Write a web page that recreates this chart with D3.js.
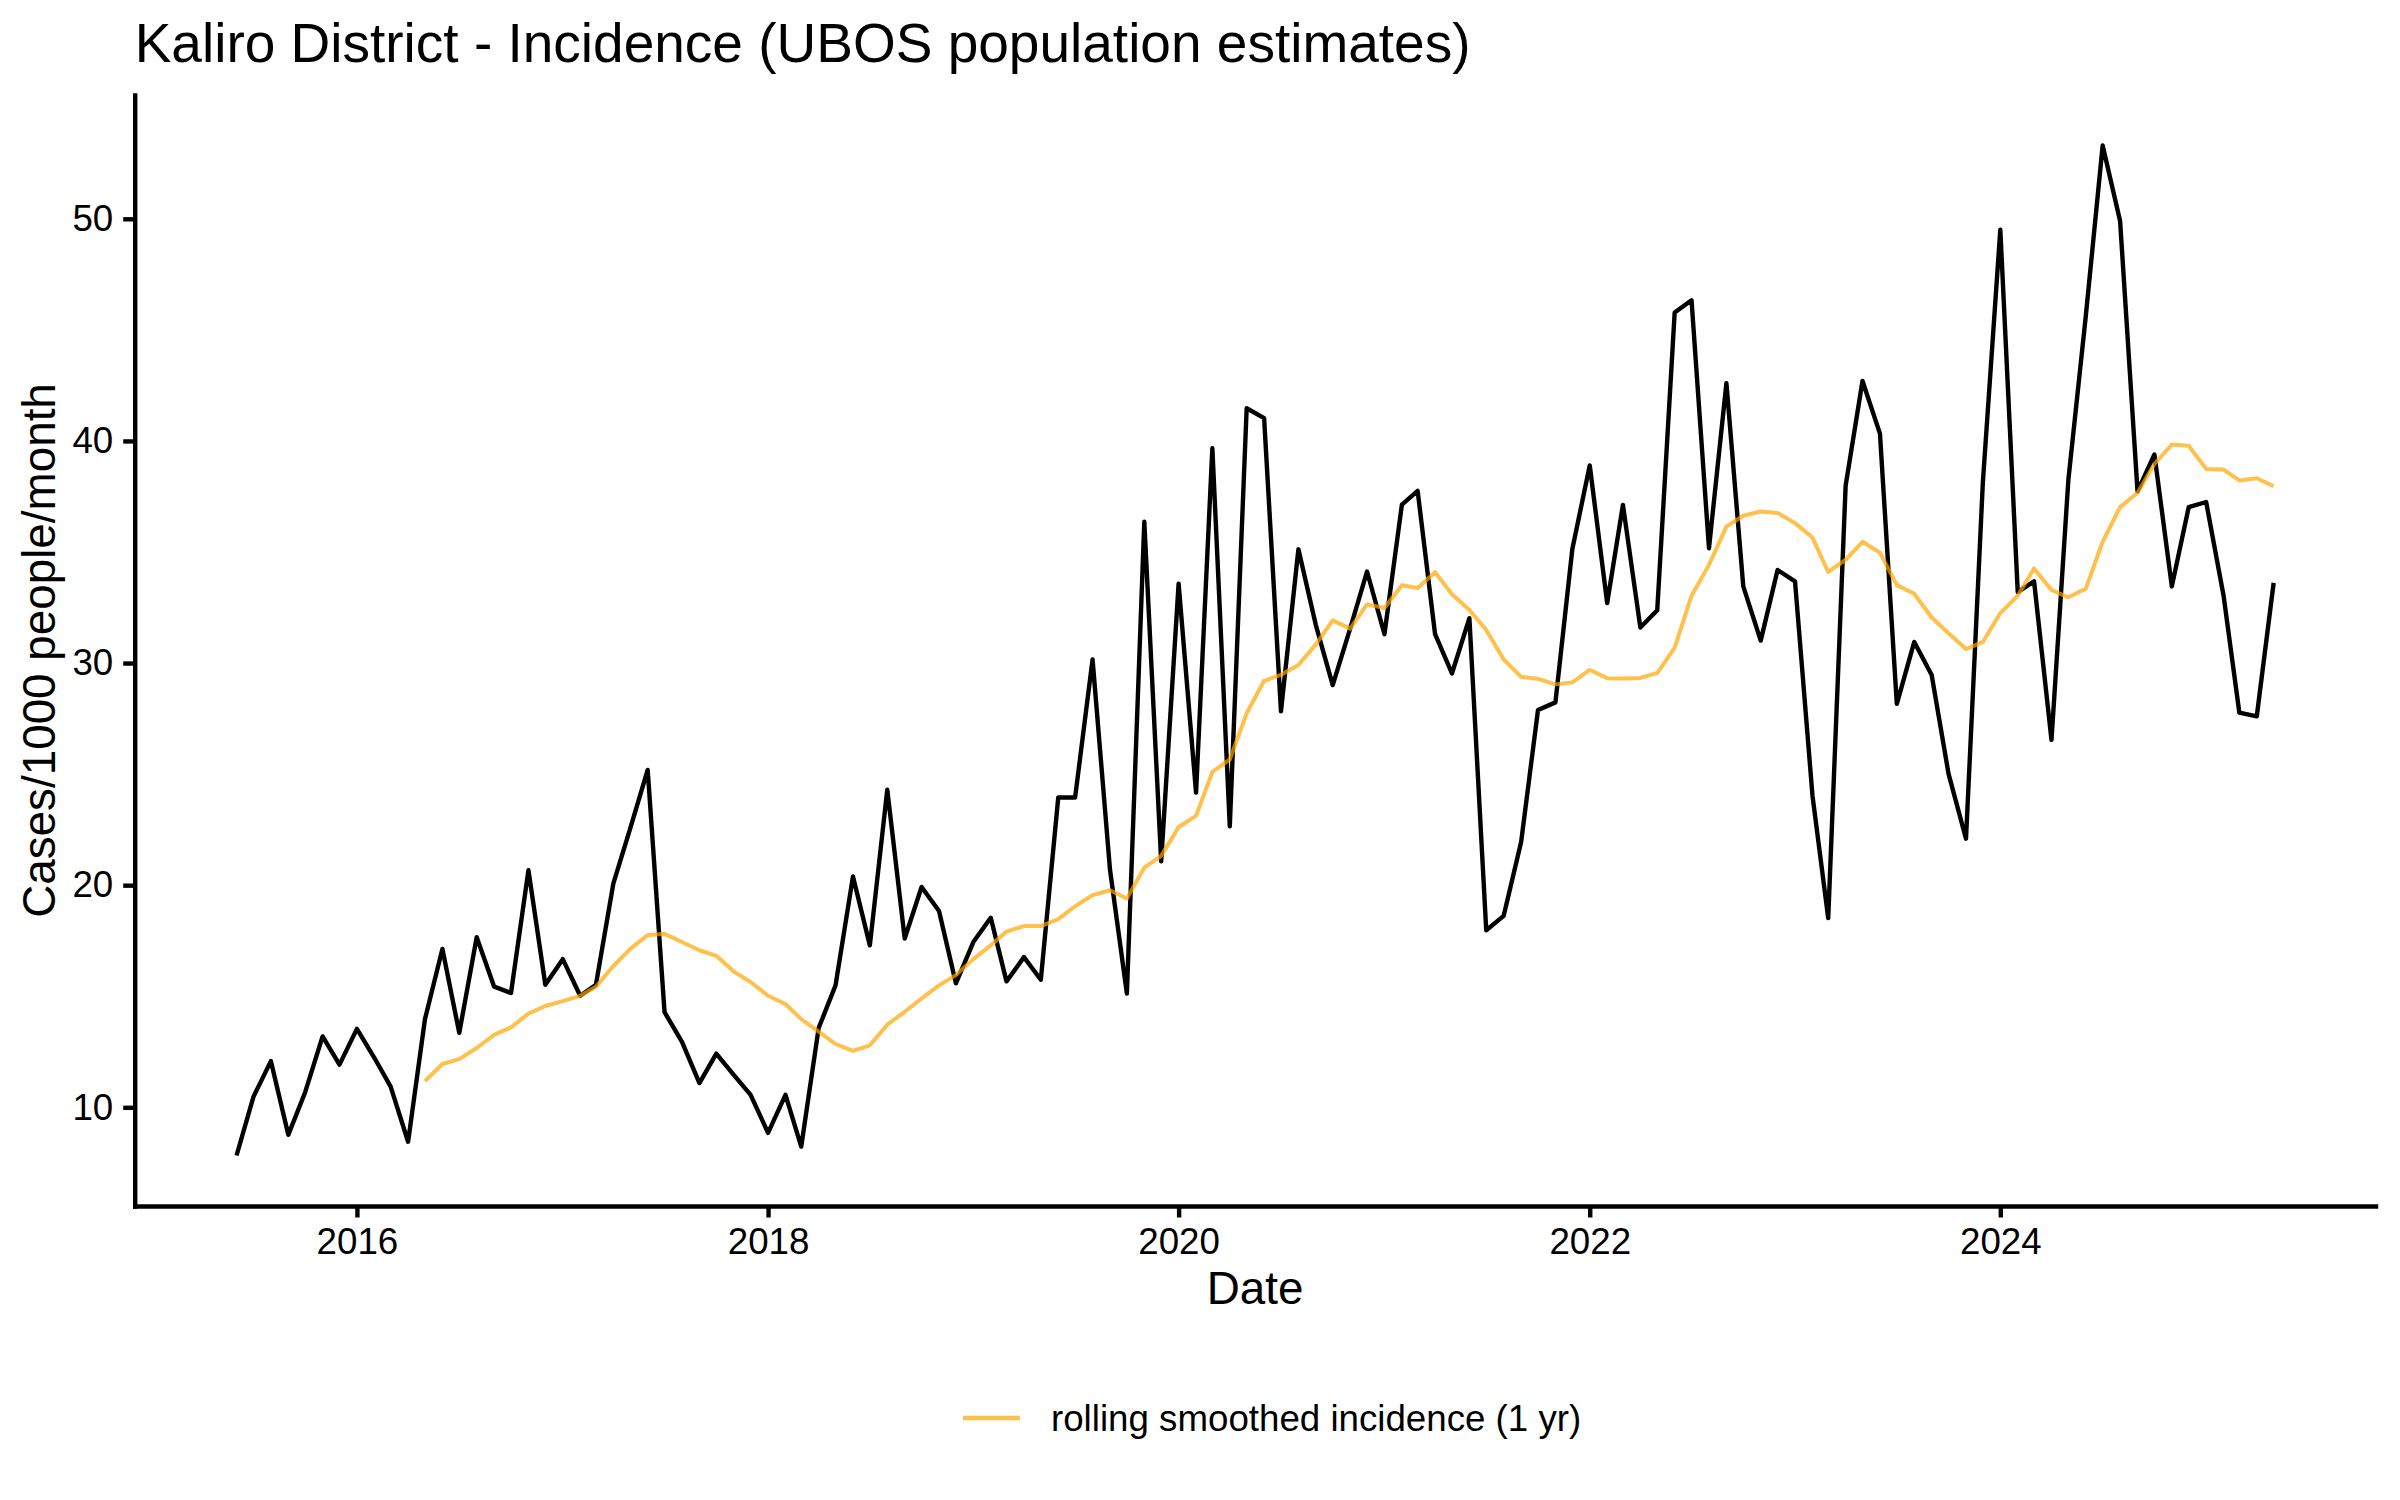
<!DOCTYPE html>
<html>
<head>
<meta charset="utf-8">
<script src="https://cdn.jsdelivr.net/npm/d3@7"></script>
<style>
  html, body { margin: 0; padding: 0; background: #ffffff; }
  svg { display: block; font-family: "Liberation Sans", Arial, Helvetica, sans-serif; }
</style>
</head>
<body>
<svg id="chart" width="2400" height="1500"></svg>
<script>
// ---------------- DATA ----------------
const chartTitle = "Kaliro District - Incidence (UBOS population estimates)";
const xLabel = "Date";
const yLabel = "Cases/1000 people/month";
const legendLabel = "rolling smoothed incidence (1 yr)";

// first month of the monthly series
const startMonth = "2015-06";

// monthly incidence (cases / 1000 people / month), Jun 2015 - May 2025
const incidence = [
  7.83, 10.47, 12.08, 8.76, 10.68, 13.19, 11.92,             // 2015 Jun-Dec
  13.53, 12.23, 10.93, 8.45, 13.97, 17.13, 13.35, 17.66, 15.43, 15.15, 20.67, 15.52, // 2016
  16.67, 15.02, 15.52, 20.08, 22.56, 25.19, 14.28, 12.95, 11.09, 12.42, 11.46, 10.56, // 2017
  8.85, 10.56, 8.23, 13.57, 15.49, 20.39, 17.29, 24.30, 17.60, 19.92, 18.84, 15.58,   // 2018
  17.44, 18.53, 15.67, 16.76, 15.74, 23.95, 23.95, 30.16, 20.70, 15.12, 36.36, 21.07, // 2019
  33.57, 24.17, 39.67, 22.65, 41.47, 41.03, 27.83, 35.12, 31.71, 29.01, 31.55, 34.12, // 2020
  31.30, 37.13, 37.75, 31.30, 29.53, 32.02, 17.97, 18.62, 21.94, 27.89, 28.23, 35.12, // 2021
  38.90, 32.70, 37.12, 31.60, 32.38, 45.78, 46.33, 35.17, 42.60, 33.45, 31.01, 34.19, // 2022
  33.68, 24.04, 18.52, 37.99, 42.70, 40.33, 28.16, 30.95, 29.46, 25.01, 22.09, 38.15, // 2023
  49.51, 33.19, 33.68, 26.54, 38.25, 45.62, 53.30, 49.90, 37.73, 39.39, 33.45, 37.02, // 2024
  37.25, 33.03, 27.77, 27.60, 33.61                                                   // 2025 Jan-May
];

// 12-month rolling smoothed incidence (starts May 2016)
const smoothed = [
  null, null, null, null, null, null, null,
  null, null, null, null, 11.18, 11.95, 12.17, 12.67, 13.26, 13.60, 14.22, 14.56,
  14.78, 15.02, 15.43, 16.36, 17.13, 17.75, 17.81, 17.44, 17.07, 16.82, 16.11, 15.64,
  15.02, 14.65, 13.97, 13.41, 12.85, 12.54, 12.79, 13.72, 14.30, 14.90, 15.49, 15.95,
  16.67, 17.29, 17.91, 18.16, 18.16, 18.47, 19.05, 19.55, 19.77, 19.40, 20.79, 21.32,
  22.62, 23.12, 25.10, 25.66, 27.74, 29.20, 29.47, 29.91, 30.84, 31.92, 31.55, 32.64,
  32.48, 33.50, 33.38, 34.09, 33.10, 32.39, 31.49, 30.16, 29.38, 29.29, 29.04, 29.13,
  29.69, 29.32, 29.30, 29.33, 29.55, 30.69, 33.03, 34.42, 36.14, 36.63, 36.82, 36.76,
  36.30, 35.65, 34.10, 34.65, 35.46, 34.97, 33.51, 33.12, 32.05, 31.34, 30.63, 30.95,
  32.25, 33.03, 34.26, 33.29, 32.96, 33.35, 35.46, 37.02, 37.67, 38.96, 39.84, 39.78,
  38.74, 38.71, 38.22, 38.32, 37.96
];

const yTickValues = [10, 20, 30, 40, 50];

// ---------------- LAYOUT ----------------
const W = 2400, H = 1500;
const panel = { left: 134.7, right: 2375.5, top: 95, bottom: 1206 };
const fontTick = 36.7, fontAxisTitle = 45.8, fontTitle = 55;
const lineW = 4.4;

const svg = d3.select("#chart");

const start = d3.utcParse("%Y-%m")(startMonth);
const dates = incidence.map((_, i) => d3.utcMonth.offset(start, i));
const rows = dates.map((d, i) => ({ date: d, inc: incidence[i], sm: smoothed[i] }));

// ggplot-like 5% expansion
const xExt = d3.extent(dates, d => +d);
const xPad = (xExt[1] - xExt[0]) * 0.05;
const x = d3.scaleUtc()
  .domain([new Date(xExt[0] - xPad), new Date(xExt[1] + xPad)])
  .range([panel.left, panel.right]);

const yExt = d3.extent(incidence.concat(smoothed.filter(v => v != null)));
const yPad = (yExt[1] - yExt[0]) * 0.05;
const y = d3.scaleLinear()
  .domain([yExt[0] - yPad, yExt[1] + yPad])
  .range([panel.bottom, panel.top]);

// ---------------- LINES ----------------
const lineInc = d3.line().x(d => x(d.date)).y(d => y(d.inc));
const lineSm = d3.line().defined(d => d.sm != null).x(d => x(d.date)).y(d => y(d.sm));

svg.append("path")
  .datum(rows)
  .attr("d", lineInc)
  .attr("fill", "none")
  .attr("stroke", "#000000")
  .attr("stroke-width", lineW)
  .attr("stroke-linejoin", "round")
  .attr("stroke-linecap", "butt");

svg.append("path")
  .datum(rows)
  .attr("d", lineSm)
  .attr("fill", "none")
  .attr("stroke", "#FFA500")
  .attr("stroke-opacity", 0.7)
  .attr("stroke-width", 4.0)
  .attr("stroke-linejoin", "round")
  .attr("stroke-linecap", "butt");

// ---------------- AXES ----------------
const xAxis = d3.axisBottom(x)
  .ticks(d3.utcYear.every(2))
  .tickFormat(d3.utcFormat("%Y"))
  .tickSize(11.5)
  .tickSizeOuter(0)
  .tickPadding(10.5);

const yAxis = d3.axisLeft(y)
  .tickValues(yTickValues)
  .tickFormat(d3.format("d"))
  .tickSize(11.5)
  .tickSizeOuter(0)
  .tickPadding(10);

const gx = svg.append("g")
  .attr("transform", `translate(0,${panel.bottom})`)
  .call(xAxis);
const gy = svg.append("g")
  .attr("transform", `translate(${panel.left},0)`)
  .call(yAxis);

[gx, gy].forEach(g => {
  g.select(".domain").attr("stroke", "#000").attr("stroke-width", lineW).attr("stroke-linecap", "square");
  g.selectAll(".tick line").attr("stroke", "#000").attr("stroke-width", lineW);
  g.selectAll(".tick text")
    .attr("fill", "#000")
    .style("font-size", fontTick + "px")
    .style("font-family", '"Liberation Sans", Arial, Helvetica, sans-serif');
});

// ---------------- TEXT ----------------
svg.append("text")
  .attr("x", panel.left)
  .attr("y", 62)
  .attr("fill", "#000")
  .style("font-size", fontTitle + "px")
  .text(chartTitle);

svg.append("text")
  .attr("x", (panel.left + panel.right) / 2)
  .attr("y", 1304)
  .attr("text-anchor", "middle")
  .attr("fill", "#000")
  .style("font-size", fontAxisTitle + "px")
  .text(xLabel);

svg.append("text")
  .attr("transform", `translate(55,${(panel.top + panel.bottom) / 2}) rotate(-90)`)
  .attr("text-anchor", "middle")
  .attr("fill", "#000")
  .style("font-size", fontAxisTitle + "px")
  .text(yLabel);

// ---------------- LEGEND ----------------
const legendY = 1418;
const lg = svg.append("g");
lg.append("line")
  .attr("x1", 963).attr("x2", 1020)
  .attr("y1", legendY).attr("y2", legendY)
  .attr("stroke", "#FFA500")
  .attr("stroke-opacity", 0.7)
  .attr("stroke-width", 4.4);
lg.append("text")
  .attr("x", 1051)
  .attr("y", legendY)
  .attr("dy", "0.35em")
  .attr("fill", "#000")
  .style("font-size", fontTick + "px")
  .text(legendLabel);
</script>
</body>
</html>
